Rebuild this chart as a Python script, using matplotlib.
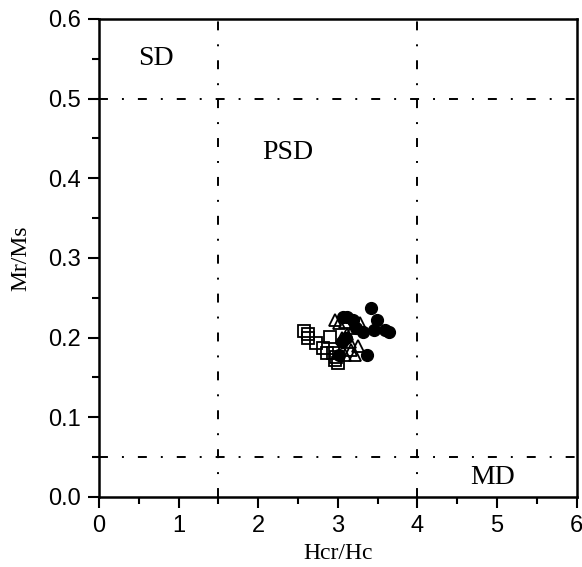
import numpy as np
import matplotlib.pyplot as plt
from matplotlib.ticker import MultipleLocator

# Day plot data (Hcr/Hc, Mr/Ms)
circ_x = [3.42, 3.49, 3.64, 3.59, 3.46, 3.37, 3.05, 3.19, 3.12, 3.06, 3.31, 3.23, 3.02, 3.10]
circ_y = [0.237, 0.222, 0.207, 0.210, 0.210, 0.178, 0.195, 0.222, 0.226, 0.226, 0.207, 0.212, 0.178, 0.200]

tri_x = [2.96, 3.02, 3.09, 3.19, 3.15, 3.17, 3.21, 3.09, 3.25, 3.28, 3.12, 3.05]
tri_y = [0.222, 0.218, 0.220, 0.212, 0.195, 0.184, 0.178, 0.178, 0.190, 0.218, 0.205, 0.200]

sq_x = [2.58, 2.62, 2.63, 2.73, 2.81, 2.90, 2.86, 2.94, 2.96, 3.00, 2.98]
sq_y = [0.208, 0.205, 0.200, 0.193, 0.187, 0.201, 0.181, 0.181, 0.172, 0.168, 0.176]

vlines = [1.5, 4.0]
hlines = [0.05, 0.5]
regions = [("SD", 0.72, 0.551), ("PSD", 2.37, 0.433), ("MD", 4.94, 0.024)]

fig = plt.figure(figsize=(5.82, 5.67), dpi=100)
ax = fig.add_axes([0.170, 0.1235, 0.821, 0.843])

dd = (0, (4.6, 7.2, 1.0, 7.2))
for v in vlines:
    ax.axvline(v, color='k', lw=1.4, linestyle=dd)
for h in hlines:
    ax.axhline(h, color='k', lw=1.4, linestyle=dd)

ax.plot(sq_x, sq_y, 's', ms=8, mfc='none', mec='k', mew=1.3)
ax.plot(tri_x, tri_y, '^', ms=9, mfc='none', mec='k', mew=1.3)
ax.plot(circ_x, circ_y, 'o', ms=8.5, mfc='k', mec='k')

for name, x, y in regions:
    ax.text(x, y, name, family='Liberation Serif', fontsize=20, ha='center', va='center')

ax.set_xlim(0, 6)
ax.set_ylim(0, 0.6)
ax.xaxis.set_major_locator(MultipleLocator(1))
ax.xaxis.set_minor_locator(MultipleLocator(0.5))
ax.yaxis.set_major_locator(MultipleLocator(0.1))
ax.yaxis.set_minor_locator(MultipleLocator(0.05))
ax.set_yticklabels([f"{v:.1f}" for v in ax.get_yticks()])
ax.tick_params(which='major', direction='out', length=8, width=1.5, labelsize=17, pad=5)
ax.tick_params(which='minor', direction='out', length=5, width=1.5)
for lab in ax.get_xticklabels() + ax.get_yticklabels():
    lab.set_family('Liberation Sans')
for s in ax.spines.values():
    s.set_linewidth(1.8)

ax.set_xlabel("Hcr/Hc", family='Liberation Serif', fontsize=17, labelpad=4)
ax.set_ylabel("Mr/Ms", family='Liberation Serif', fontsize=17, labelpad=12)

fig.savefig("out.png", dpi=100)
